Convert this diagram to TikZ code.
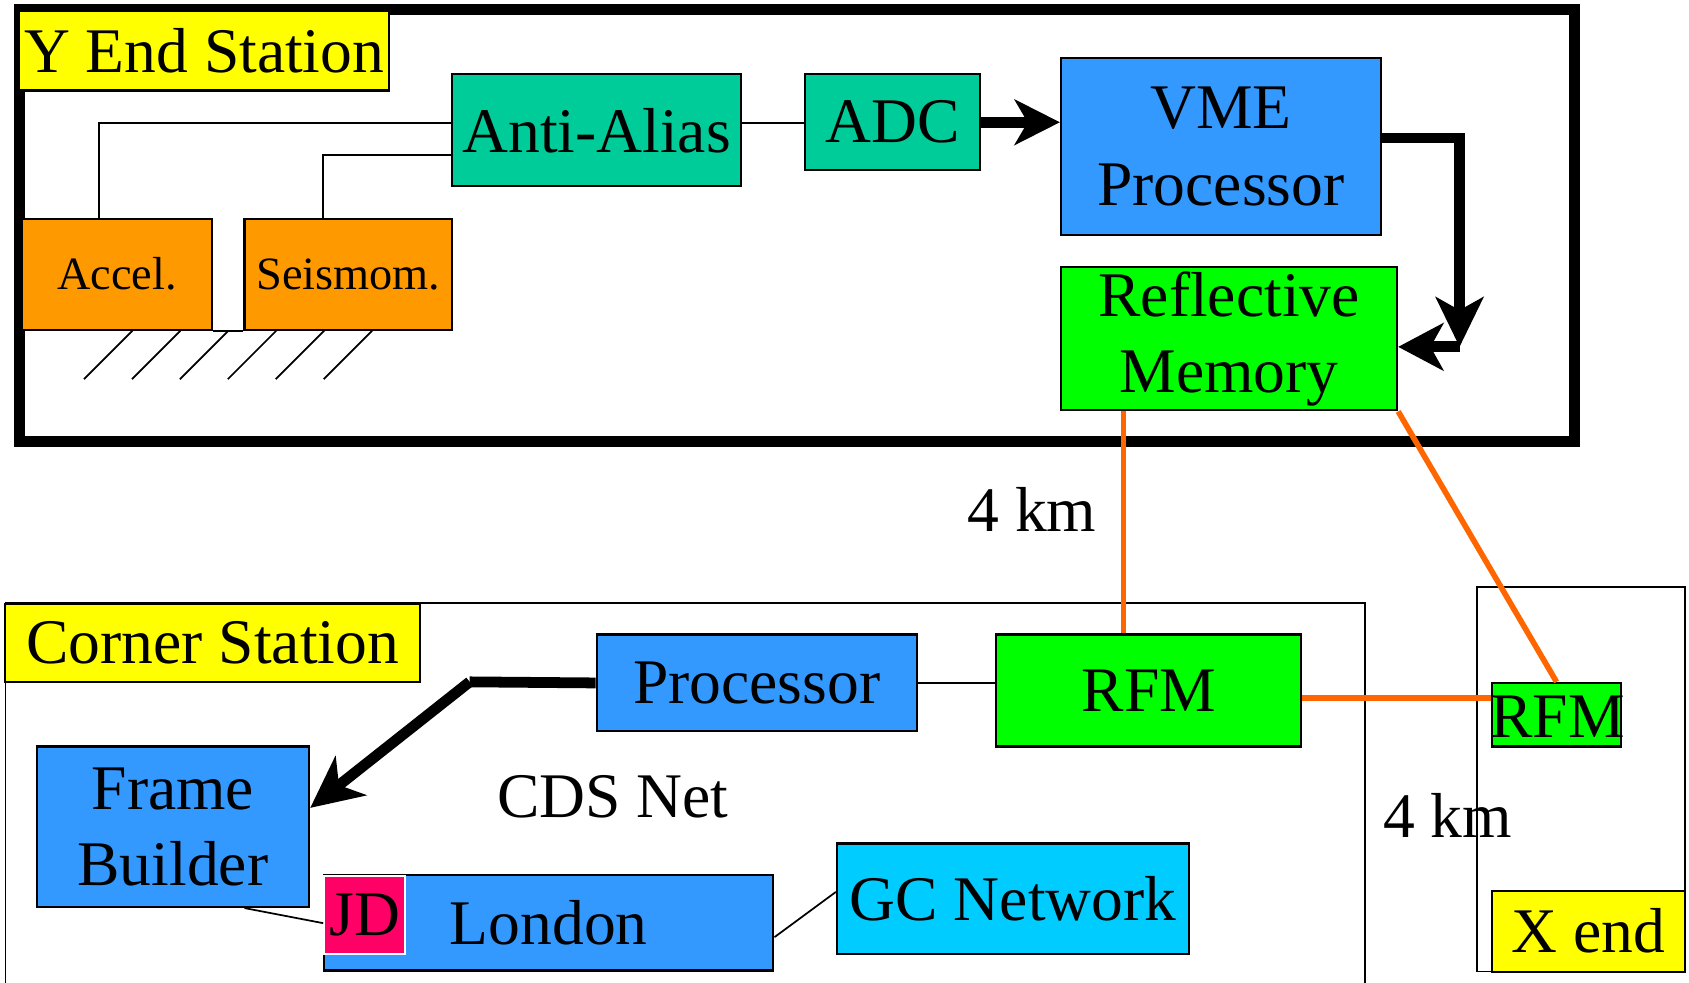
\documentclass[tikz,border=0pt]{standalone}
\usepackage{fontspec}
\setmainfont{Liberation Serif}
\usetikzlibrary{arrows.meta}
\definecolor{cteal}{HTML}{00CC99}
\definecolor{cblue}{HTML}{3399FF}
\definecolor{cgreen}{HTML}{00FF00}
\definecolor{corange}{HTML}{FF9900}
\definecolor{cyellow}{HTML}{FFFF00}
\definecolor{ccyan}{HTML}{00CCFF}
\definecolor{cjd}{HTML}{FF0066}
\definecolor{cline}{HTML}{FF6600}
\newcommand\bigf{\fontsize{29.5pt}{35.5pt}\selectfont}
\newcommand\smallf{\fontsize{21.5pt}{26pt}\selectfont}
\tikzset{
  box/.style={draw=black, line width=1pt, inner sep=0pt, align=center, font=\bigf},
  thinline/.style={line width=0.8pt},
  bigarrow/.style={line width=5pt, -{Stealth[length=21pt,width=21pt,inset=6pt]}},
  bigline/.style={line width=5pt},
  fiber/.style={draw=cline, line width=2.6pt},
  fiberthick/.style={draw=cline, line width=3.2pt},
  lbl/.style={font=\bigf, inner sep=0pt}
}
\begin{document}
\begin{tikzpicture}[x=0.5pt, y=-0.5pt]
\useasboundingbox (0,0) rectangle (1568,912);
\fill[white] (0,0) rectangle (1568,912);

% Y end station frame
\draw[line width=5pt] (18,9) rectangle (1462,410);
\node[box, fill=cyellow, minimum width=171.5pt, minimum height=37pt] (ylab) at (189.5,47) {Y End Station};

\node[box, fill=cteal, minimum width=134pt, minimum height=52pt] (aa) at (554,121) {Anti-Alias};
\node[box, fill=cteal, minimum width=81.5pt, minimum height=44.5pt] (adc) at (828.5,113.5) {ADC};
\node[box, fill=cblue, minimum width=148.5pt, minimum height=82pt] (vme) at (1133.5,136) {VME\\Processor};
\node[box, fill=cgreen, minimum width=156pt, minimum height=66.5pt] (rm) at (1141,314.5) {Reflective\\Memory};
\node[box, fill=corange, font=\smallf, minimum width=88.5pt, minimum height=51.5pt] (acc) at (108.5,254.5) {Accel.};
\node[box, fill=corange, font=\smallf, minimum width=96.5pt, minimum height=51.5pt] (seis) at (323.5,254.5) {Seismom.};

% sensor wiring
\draw[thinline] ([xshift=36.5pt]acc.north west) |- ([yshift=3.5pt]aa.west);
\draw[thinline] ([xshift=37pt]seis.north west) |- ([yshift=-11.5pt]aa.west);
\draw[thinline] ([yshift=3.5pt]aa.east) -- ([yshift=3.5pt]aa.east -| adc.west);
\draw[bigarrow] (adc.east) -- (adc.east -| vme.west);
\coordinate (bend) at (1355,322);
\draw[bigline, -{Stealth[length=23pt,width=22pt,inset=6pt]}] ([yshift=4pt]vme.east) -| (bend);
\draw[bigline, -{Stealth[length=21pt,width=22pt,inset=6pt]}] (bend) -- (bend -| rm.east);

% ground
\draw[thinline] (acc.south east) -- (seis.south west);
\foreach \x in {123,167.5,212,256.5,301,345.5}
  \draw[thinline] (\x,307) -- (\x-45,352);

% corner station
\draw[thinline] (5,915) -- (5,560) -- (1267,560) -- (1267,915);
\node[box, fill=cyellow, minimum width=192.5pt, minimum height=36pt] (cslab) at (197.5,597) {Corner Station};
\node[box, fill=cblue, minimum width=148.5pt, minimum height=45pt] (proc) at (702.5,634) {Processor};
\node[box, fill=cgreen, minimum width=141.5pt, minimum height=52pt] (rfm) at (1066.5,641) {RFM};
\node[box, fill=cblue, minimum width=126.5pt, minimum height=74.5pt] (fb) at (160.5,767.5) {Frame\\Builder};
\node[box, fill=cblue, minimum width=208.5pt, minimum height=44.5pt] (lon) at (509.5,856.5) {London};
\node[box, draw=white, fill=cjd, minimum width=37.5pt, minimum height=36.5pt] (jd) at (338.5,849.5) {JD};
\node[box, fill=ccyan, minimum width=163.5pt, minimum height=51.5pt] (gc) at (940.5,834.5) {GC Network};
\node[lbl] (cds) at (569,740) {CDS Net};

\draw[thinline] (proc.east) -- (proc.east -| rfm.west);
\coordinate (pk) at (436,633);
\draw[bigline] (proc.west) -- (pk);
\draw[line width=5pt, -{Stealth[length=24pt,width=23pt,inset=7pt]}] (pk) -- ([yshift=8.75pt]fb.east);
\draw[thinline] ([xshift=97pt]fb.south west) -- ([yshift=-3.75pt]jd.west);
\draw[thinline] ([yshift=-6.75pt]lon.east) -- ([yshift=3.25pt]gc.west);

% X end
\draw[thinline] (1371,545) rectangle (1564,902);
\node[box, fill=cgreen, minimum width=60pt, minimum height=29.5pt] (rfm2) at (1445,663.5) {};
\node[lbl] (rfm2t) at (1446,665) {RFM};
\node[box, fill=cyellow, minimum width=89.5pt, minimum height=37.5pt] (xlab) at (1474.5,864.5) {X end};

% fibers
\draw[fiber] ([xshift=29.5pt]rm.south west) -- ([xshift=29.5pt]rm.south west |- rfm.north);
\draw[fiber] (rm.south east) -- (rfm2.north);
\draw[fiberthick] ([yshift=-3.5pt]rfm.east) -- ([yshift=-3.5pt]rfm.east -| rfm2.west);

\node[lbl] (km1) at (958,473) {4 km};
\node[lbl] (km2) at (1344,757) {4 km};
\end{tikzpicture}
\end{document}
